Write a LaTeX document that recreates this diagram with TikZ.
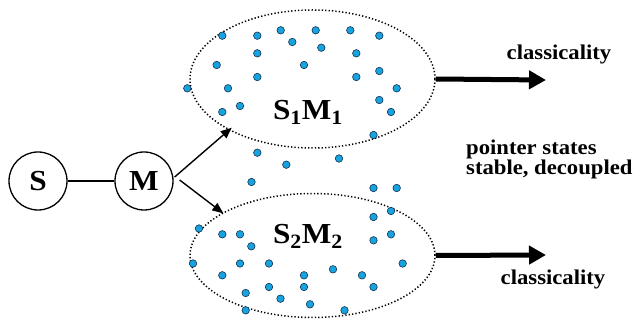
\documentclass[tikz,border=0pt]{standalone}
\usepackage{fontspec}
\setmainfont{Liberation Serif}
\usetikzlibrary{arrows.meta,shapes.geometric}
\definecolor{dotblue}{RGB}{22,163,224}
\definecolor{dotedge}{RGB}{20,50,80}
\newcommand{\widetext}[1]{\scalebox{1.08}[1]{#1}}
\tikzset{
  sys/.style={circle, draw, line width=1.3pt, minimum size=58pt, inner sep=0pt,
    font=\bfseries\fontsize{29}{29}\selectfont},
  cloud/.style={draw, line width=1.5pt, dash pattern=on 1.3pt off 2.1pt},
  branch/.style={line width=1.4pt, -{Triangle[length=11pt,width=9pt]}},
  bigarrow/.style={line width=5pt, -{Triangle[length=17pt,width=18pt]}},
  biglabel/.style={font=\bfseries\fontsize{29}{29}\selectfont, inner sep=0pt, anchor=base},
  smalllabel/.style={font=\bfseries\fontsize{21}{21}\selectfont, inner sep=0pt},
  envdot/.style={circle, fill=dotblue, draw=dotedge, line width=0.6pt, minimum size=7.5pt, inner sep=0pt}
}
\begin{document}
\begin{tikzpicture}[x=1pt,y=-1pt]
\useasboundingbox (0,0) rectangle (633,320);
\fill[white] (0,0) rectangle (633,320);

% environment clouds around the two branches
\node[cloud, ellipse, minimum width=245pt, minimum height=138pt, inner sep=0pt] (E1) at (312.5,79) {};
\node[cloud, ellipse, minimum width=245pt, minimum height=124pt, inner sep=0pt] (E2) at (312.5,255.5) {};

% environment particles
\foreach \p [count=\i] in {
  (222.3,35.7),(257.3,35.7),(280.7,30.3),(315.7,30.3),(350.3,30.3),(379.3,35.7),
  (292.3,42),(321.3,47.7),(257.3,53.3),(356.3,53.3),(216.7,65),(304,65),
  (379.3,71),(257.3,77),(356.3,77),(187.3,88.3),(228,88.3),(396.7,88.3),
  (379.3,100),(240,106),(222.3,112),(391,112),(373.5,135),
  (257.3,152.7),(339,158.5),(286.3,164.7),(251.5,182),(373.5,188),(396.7,188),
  (391,211),(373.5,217),(199,228.5),(222.3,234.3),(240,234.3),(391,234.3),
  (251.3,246.3),(373.5,240.3),(193,263.5),(240,263.5),(269,263.5),(402.7,263.5),
  (333,269.3),(222.3,275.3),(304,275.3),(362,275.3),(269,287),(304,287),
  (373.5,287),(245.7,293),(280.5,298.7),(310,304.3),(245.7,310.3),(344.5,310.3)}
  \node[envdot] (d\i) at \p {};

% system and measuring apparatus
\node[sys] (S) at (38,181) {\widetext{S}};
\node[sys] (M) at (144,181) {\widetext{M}};
\draw[line width=1.3pt] (S) -- (M);

% the two branches leave M from its right side
\coordinate (t1) at (231.7,127.7);
\coordinate (t2) at (223.3,213.3);
\draw[branch] ([xshift=1pt,yshift=4pt]M.east) -- (t1);
\draw[branch] ([xshift=6pt,yshift=1pt]M.east) -- (t2);

% branch labels
\node[biglabel] (L1) at (308,120) {\widetext{S\textsubscript{1}M\textsubscript{1}}};
\node[biglabel] (L2) at (308,243.5) {\widetext{S\textsubscript{2}M\textsubscript{2}}};

% outcomes
\coordinate (c1) at (546,80);
\coordinate (c2) at (546,255);
\draw[bigarrow] (E1.east) -- (c1);
\draw[bigarrow] (E2.east) -- (c2);

\node[smalllabel, anchor=base] (K1) at (559,60) {\widetext{classicality}};
\node[smalllabel, anchor=base] (K2) at (553,285) {\widetext{classicality}};
\node[smalllabel, anchor=base west] (P1) at (466,155) {\widetext{pointer states}};
\node[smalllabel, anchor=base west] (P2) at (466,175) {\widetext{stable, decoupled}};
\end{tikzpicture}
\end{document}
